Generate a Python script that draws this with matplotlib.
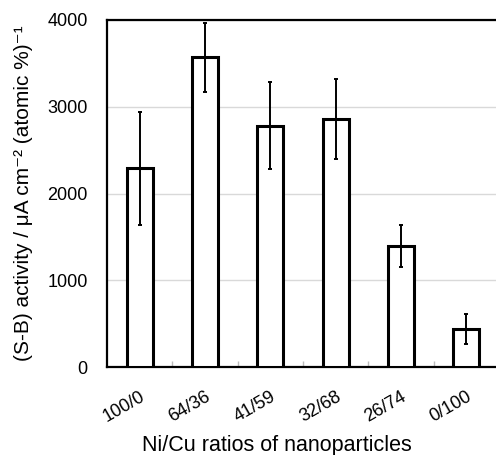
import numpy as np
import matplotlib.pyplot as plt

plt.rcParams['font.family'] = ['Liberation Sans', 'DejaVu Sans']

# Data
ratios = ["100/0", "64/36", "41/59", "32/68", "26/74", "0/100"]
activity = [2290, 3570, 2780, 2860, 1395, 440]
error = [650, 400, 500, 460, 240, 170]

fig = plt.figure(figsize=(4.96, 4.55), dpi=100)
ax = fig.add_axes([107/496, 1 - 367/455, 392/496, 347/455])

x = np.arange(len(ratios))
ax.bar(x, activity, width=0.4, facecolor='white', edgecolor='black',
       linewidth=2.2, zorder=3)
ax.errorbar(x, activity, yerr=error, fmt='none', ecolor='black',
            elinewidth=1.4, capsize=1.5, capthick=1.4, zorder=4)

ax.set_xlim(-0.5, len(ratios) - 0.5)
ax.set_ylim(0, 4000)
ax.set_yticks([0, 1000, 2000, 3000, 4000])
ax.yaxis.grid(True, color='#d9d9d9', linewidth=1, zorder=0)
ax.set_axisbelow(True)

ax.set_xticks(x)
ax.set_xticklabels(ratios, rotation=30, ha='right', rotation_mode='anchor')
ax.set_xticks(np.arange(0.5, len(ratios) - 0.5), minor=True)
ax.tick_params(axis='x', which='major', length=0, labelsize=13, pad=15)
ax.tick_params(axis='x', which='minor', direction='in', length=4,
               color='#bbbbbb', width=1)
ax.tick_params(axis='y', length=0, labelsize=13, pad=14)

for s in ax.spines.values():
    s.set_linewidth(1.6)
    s.set_color('black')

ax.set_xlabel("Ni/Cu ratios of nanoparticles", fontsize=15.5)
ax.xaxis.set_label_coords(0.434, -0.195)
ax.set_ylabel("(S-B) activity / μA cm⁻² (atomic %)⁻¹",
              fontsize=15, labelpad=10)

fig.savefig("out.png", dpi=100)
